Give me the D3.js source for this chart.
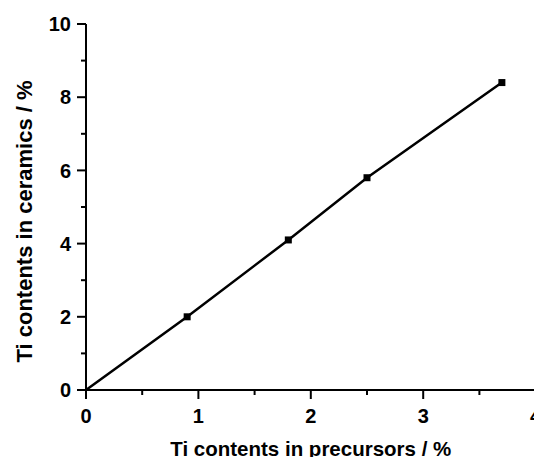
<!DOCTYPE html>
<html>
<head>
<meta charset="utf-8">
<script src="https://cdn.jsdelivr.net/npm/d3@7"></script>
<style>
  body { margin: 0; background: #fff; }
  svg { display: block; }
  text { font-family: "Liberation Sans", Arial, sans-serif; font-weight: bold; fill: #000; }
</style>
</head>
<body>
<div id="chart"></div>
<script>
// Ti contents: precursors vs ceramics (%)
const precursors = [0, 0.9, 1.8, 2.5, 3.7];
const ceramics = [0, 2.0, 4.1, 5.8, 8.4];
const xTicks = [0, 1, 2, 3, 4];
const yTicks = [0, 2, 4, 6, 8, 10];
const xTitle = "Ti contents in precursors / %";
const yTitle = "Ti contents in ceramics / %";

const width = 534, height = 457;
const svg = d3.select("#chart").append("svg")
  .attr("width", width)
  .attr("height", height);

const x = d3.scaleLinear().domain([0, 4]).range([86, 535.6]);
const y = d3.scaleLinear().domain([0, 10]).range([390, 24]);

// y axis
const yAxis = svg.append("g").attr("transform", "translate(86,0)");
yAxis.append("line").attr("x1", 0).attr("x2", 0).attr("y1", y(0)).attr("y2", y(10))
  .attr("stroke", "#000").attr("stroke-width", 2);
yAxis.selectAll(".maj").data(yTicks).enter().append("line")
  .attr("x1", -9).attr("x2", 0).attr("y1", d => y(d)).attr("y2", d => y(d))
  .attr("stroke", "#000").attr("stroke-width", 2);
yAxis.selectAll(".min").data(d3.range(1, 10, 2)).enter().append("line")
  .attr("x1", -5).attr("x2", 0).attr("y1", d => y(d)).attr("y2", d => y(d))
  .attr("stroke", "#000").attr("stroke-width", 2);
yAxis.selectAll("text").data(yTicks).enter().append("text")
  .attr("x", -15).attr("y", d => y(d)).attr("dy", "0.36em")
  .attr("text-anchor", "end").attr("font-size", 20)
  .text(d => d);

// x axis
const xAxis = svg.append("g").attr("transform", "translate(0,390)");
xAxis.append("line").attr("x1", x(0)).attr("x2", x(4)).attr("y1", 0).attr("y2", 0)
  .attr("stroke", "#000").attr("stroke-width", 2);
xAxis.selectAll(".maj").data(xTicks).enter().append("line")
  .attr("x1", d => x(d)).attr("x2", d => x(d)).attr("y1", 0).attr("y2", 9)
  .attr("stroke", "#000").attr("stroke-width", 2);
xAxis.selectAll(".min").data([0.5, 1.5, 2.5, 3.5]).enter().append("line")
  .attr("x1", d => x(d)).attr("x2", d => x(d)).attr("y1", 0).attr("y2", 5)
  .attr("stroke", "#000").attr("stroke-width", 2);
xAxis.selectAll("text").data(xTicks).enter().append("text")
  .attr("x", d => x(d)).attr("y", 33)
  .attr("text-anchor", "middle").attr("font-size", 20)
  .text(d => d);

// titles
svg.append("text")
  .attr("x", x(2)).attr("y", 456)
  .attr("text-anchor", "middle").attr("font-size", 20.5)
  .text(xTitle);
svg.append("text")
  .attr("transform", "translate(32,221.5) rotate(-90)")
  .attr("text-anchor", "middle").attr("font-size", 22)
  .text(yTitle);

// data line + markers
const pts = precursors.map((p, i) => [p, ceramics[i]]);
svg.append("path")
  .datum(pts)
  .attr("fill", "none")
  .attr("stroke", "#000")
  .attr("stroke-width", 2.5)
  .attr("d", d3.line().x(d => x(d[0])).y(d => y(d[1])));
svg.selectAll(".pt").data(pts.slice(1)).enter().append("rect")
  .attr("x", d => x(d[0]) - 3.5).attr("y", d => y(d[1]) - 3.5)
  .attr("width", 7).attr("height", 7)
  .attr("fill", "#000");
</script>
</body>
</html>
